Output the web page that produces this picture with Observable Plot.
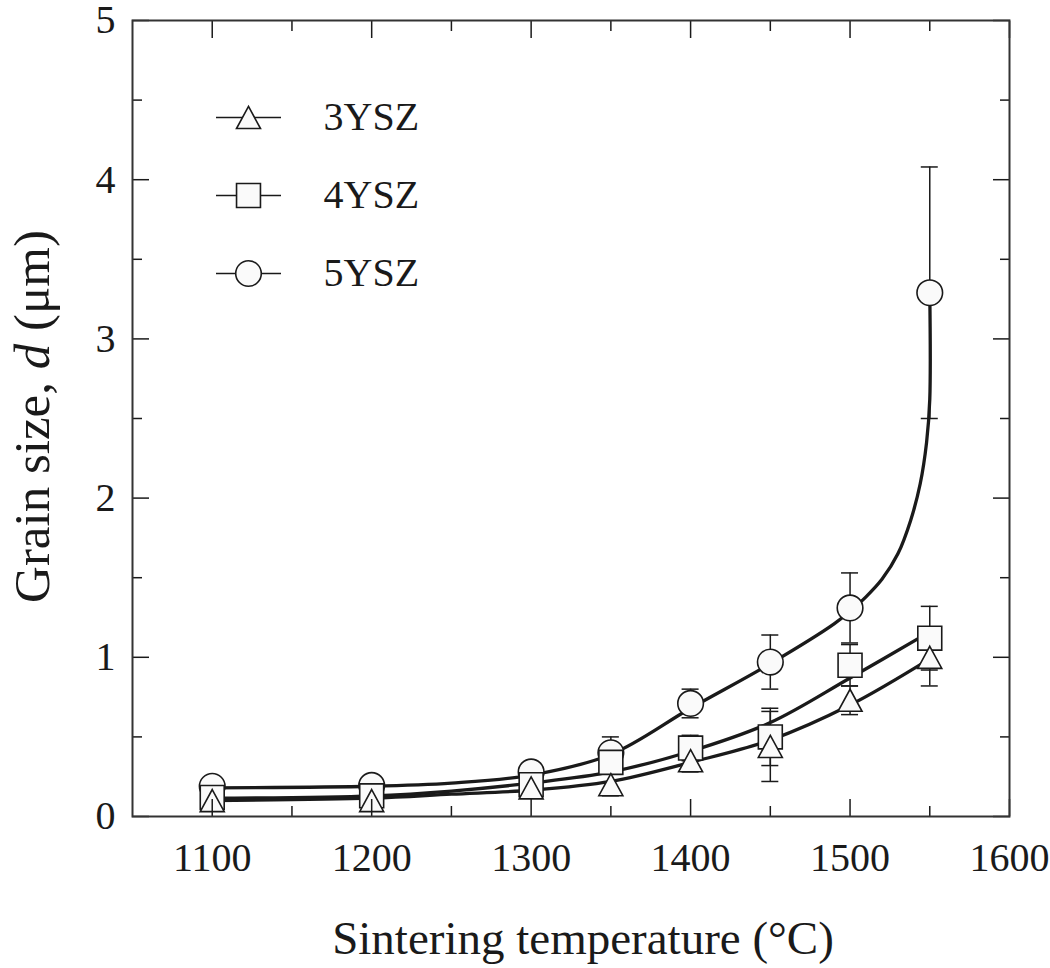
<!DOCTYPE html>
<html><head><meta charset="utf-8">
<script src="https://cdn.jsdelivr.net/npm/d3@7"></script>
<script src="https://cdn.jsdelivr.net/npm/@observablehq/plot@0.6"></script>
<style>body{margin:0;background:#fff} svg text{font-family:'Liberation Serif','Tinos','Times New Roman','Nimbus Roman','DejaVu Serif',serif}</style>
</head><body><div id="chart"></div>
<script>
// ---- data ----
const temps = [1100, 1200, 1300, 1350, 1400, 1450, 1500, 1550];
const seriesNames = ["3YSZ", "4YSZ", "5YSZ"];
const grain3YSZ = [0.10, 0.10, 0.18, 0.20, 0.35, 0.44, 0.73, 1.00];
const err3YSZ   = [0.00, 0.00, 0.00, 0.07, 0.07, 0.22, 0.09, 0.18];
const grain4YSZ = [0.12, 0.13, 0.20, 0.34, 0.43, 0.50, 0.95, 1.12];
const err4YSZ   = [0.00, 0.00, 0.00, 0.05, 0.08, 0.18, 0.13, 0.20];
const grain5YSZ = [0.19, 0.195, 0.28, 0.40, 0.71, 0.97, 1.31, 3.29];
const err5YSZ   = [0.00, 0.00, 0.00, 0.10, 0.09, 0.17, 0.22, 0.79];
// fitted curves
const fitTemps3 = [1100, 1200, 1250, 1300, 1350, 1400, 1450, 1500, 1550];
const fit3YSZ   = [0.10, 0.115, 0.14, 0.165, 0.22, 0.34, 0.48, 0.70, 0.99];
const fitTemps4 = [1100, 1200, 1250, 1300, 1350, 1400, 1450, 1500, 1550];
const fit4YSZ   = [0.115, 0.13, 0.16, 0.21, 0.28, 0.41, 0.59, 0.87, 1.16];
const fitTemps5 = [1100, 1200, 1250, 1300, 1350, 1400, 1450, 1490, 1500, 1510, 1520, 1530, 1538, 1544, 1548, 1550, 1550];
const fit5YSZ   = [0.18, 0.19, 0.21, 0.26, 0.39, 0.68, 0.96, 1.21, 1.29, 1.38, 1.49, 1.65, 1.86, 2.09, 2.35, 2.62, 3.29];
const xMajorTicks = [1100, 1200, 1300, 1400, 1500, 1600];
const xMinorTicks = [1150, 1250, 1350, 1450, 1550];
const yMajorTicks = [0, 1, 2, 3, 4, 5];
const yMinorTicks = [0.5, 1.5, 2.5, 3.5, 4.5];
const xTitle = "Sintering temperature (°C)";
const yTitleParts = [["Grain size, ", false], ["d", true], [" (μm)", false]];

// ---- build tables ----
const pts = (vals, errs, name) => temps.map((T, i) => ({T, v: vals[i], e: errs[i], name}));
const p3 = pts(grain3YSZ, err3YSZ, "3YSZ");
const p4 = pts(grain4YSZ, err4YSZ, "4YSZ");
const p5 = pts(grain5YSZ, err5YSZ, "5YSZ");
const fit = (ts, vs) => ts.map((T, i) => ({T, v: vs[i]}));
const f3 = fit(fitTemps3, fit3YSZ), f4 = fit(fitTemps4, fit4YSZ), f5 = fit(fitTemps5, fit5YSZ);
const errRows = [...p5, ...p4, ...p3].filter(d => d.e > 0);

const serif = "'Liberation Serif', 'Tinos', 'Times New Roman', 'Nimbus Roman', 'DejaVu Serif', serif";
const ink = "#1a1a1a";
const markFill = "#fafafa";
const triSym = {draw(ctx, size) {const r = Math.sqrt(size / Math.PI); const h = r * 0.92;
  ctx.moveTo(0, -h); ctx.lineTo(r, h); ctx.lineTo(-r, h); ctx.closePath();}};
const lineSym = {draw(ctx, size) {const r = Math.sqrt(size / Math.PI); ctx.moveTo(-r, 0); ctx.lineTo(r, 0);}};
const symbols = {"3YSZ": [triSym, 12], "4YSZ": ["square", 13.5], "5YSZ": ["circle", 12.8]};

const legendMarks = seriesNames.flatMap((name, i) => {
  const dy = 97 + i * 78;
  const [sym, r] = symbols[name];
  return [
    Plot.dot([name], {frameAnchor: "top-left", dx: 116, dy, symbol: lineSym, r: 32.5, stroke: ink, strokeWidth: 1.6, fill: "none"}),
    Plot.dot([name], {frameAnchor: "top-left", dx: 116, dy, symbol: sym, r, stroke: ink, strokeWidth: 1.6, fill: markFill}),
    Plot.text([name], {frameAnchor: "top-left", dx: 191, dy, text: d => d, textAnchor: "start", lineAnchor: "middle", fontSize: 40, fontFamily: serif, fill: ink})
  ];
});

const tickStyle = {stroke: ink, strokeWidth: 1.5};
const chart = Plot.plot({
  width: 1050, height: 968,
  marginLeft: 132, marginRight: 41, marginTop: 20, marginBottom: 152,
  style: {fontFamily: serif, fontSize: "39px", color: ink, background: "#fff"},
  x: {domain: [1050, 1600]},
  y: {domain: [0, 5]},
  marks: [
    // error bars
    Plot.ruleX(errRows, {x: "T", y1: d => d.v - d.e, y2: d => d.v + d.e, stroke: ink, strokeWidth: 1.5}),
    Plot.ruleY(errRows, {y: d => d.v + d.e, x1: "T", x2: "T", insetLeft: -8.5, insetRight: -8.5, stroke: ink, strokeWidth: 1.5}),
    Plot.ruleY(errRows, {y: d => d.v - d.e, x1: "T", x2: "T", insetLeft: -8.5, insetRight: -8.5, stroke: ink, strokeWidth: 1.5}),
    // fitted curves
    Plot.line(f5, {x: "T", y: "v", curve: "catmull-rom", stroke: ink, strokeWidth: 3.3}),
    Plot.line(f4, {x: "T", y: "v", curve: "catmull-rom", stroke: ink, strokeWidth: 3.3}),
    Plot.line(f3, {x: "T", y: "v", curve: "catmull-rom", stroke: ink, strokeWidth: 3.3}),
    // markers
    Plot.dot(p5, {x: "T", y: "v", symbol: "circle", r: 12.8, fill: markFill, stroke: ink, strokeWidth: 1.6}),
    Plot.dot(p4, {x: "T", y: "v", symbol: "square", r: 13.5, fill: markFill, stroke: ink, strokeWidth: 1.6}),
    Plot.dot(p3, {x: "T", y: "v", symbol: triSym, r: 12, fill: markFill, stroke: ink, strokeWidth: 1.6}),
    // axes (inward ticks on all four sides)
    Plot.axisX(xMajorTicks, {anchor: "bottom", tickSize: -17, tickPadding: 43, tickFormat: d => String(d), label: null, fontSize: 40, fontFamily: serif, ...tickStyle, fill: ink}),
    Plot.axisX(xMinorTicks, {anchor: "bottom", tickSize: -10, tickFormat: () => "", label: null, ...tickStyle}),
    Plot.axisX(xMajorTicks, {anchor: "top", tickSize: -17, tickFormat: () => "", label: null, ...tickStyle}),
    Plot.axisX(xMinorTicks, {anchor: "top", tickSize: -10, tickFormat: () => "", label: null, ...tickStyle}),
    Plot.axisY(yMajorTicks, {anchor: "left", tickSize: -17, tickPadding: 34, tickFormat: d => String(d), label: null, fontSize: 40, fontFamily: serif, ...tickStyle, fill: ink}),
    Plot.axisY(yMinorTicks, {anchor: "left", tickSize: -10, tickFormat: () => "", label: null, ...tickStyle}),
    Plot.axisY(yMajorTicks, {anchor: "right", tickSize: -17, tickFormat: () => "", label: null, ...tickStyle}),
    Plot.axisY(yMinorTicks, {anchor: "right", tickSize: -10, tickFormat: () => "", label: null, ...tickStyle}),
    Plot.frame({stroke: "#333", strokeWidth: 2}),
    // axis titles
    Plot.text([xTitle], {frameAnchor: "bottom", dy: 122, dx: 12, text: d => d, fontSize: 47, fontFamily: serif, textAnchor: "middle", lineAnchor: "middle", fill: ink}),
    Plot.text([yTitleParts.map(p => p[0]).join("")], {frameAnchor: "left", dx: -100, dy: -2, rotate: -90, text: d => d, fontSize: 51, fontFamily: serif, textAnchor: "middle", lineAnchor: "middle", fill: ink}),
    ...legendMarks
  ]
});
chart.style.fontFamily = serif;
document.getElementById("chart").appendChild(chart);

// italic "d" in the y-axis title
const yTitle = yTitleParts.map(p => p[0]).join("");
const tnode = [...chart.querySelectorAll("text")].find(n => n.textContent === yTitle);
if (tnode) {
  tnode.textContent = "";
  for (const [s, it] of yTitleParts) {
    const ts = document.createElementNS("http://www.w3.org/2000/svg", "tspan");
    ts.textContent = s;
    if (it) ts.setAttribute("font-style", "italic");
    tnode.appendChild(ts);
  }
}
</script>
</body></html>
